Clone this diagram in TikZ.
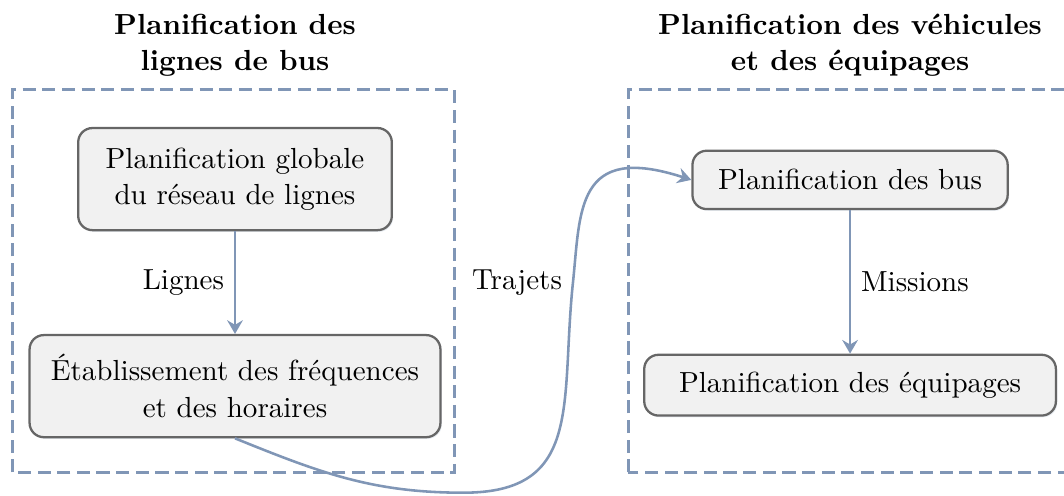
\documentclass[tikz,border=0pt]{standalone}
\usepackage{fontspec}
\usetikzlibrary{arrows.meta,shadows}

\definecolor{ligne}{RGB}{128,150,182}
\definecolor{bord}{RGB}{102,102,102}
\definecolor{fond}{RGB}{241,241,241}

\tikzset{
    etape/.style={draw=bord, fill=fond, line width=0.8pt, rounded corners=5pt, align=center,
        drop shadow={shadow xshift=0.5pt, shadow yshift=-0.6pt, fill=ligne!50, opacity=0.35}},
    fleche/.style={draw=ligne, line width=0.9pt, -{Stealth[length=4.8pt, width=5.5pt, inset=1.6pt]}},
    cadre/.style={draw=ligne, line width=1.05pt, dash pattern=on 4.6pt off 2.3pt},
    titre/.style={font=\bfseries, align=center}
}

\begin{document}
\fontsize{10.2pt}{12.8pt}\selectfont
\begin{tikzpicture}
    \useasboundingbox (0,0) rectangle (13.13,6.11);
    % les deux cadres
    \draw[cadre] (0.15,0.28) rectangle (5.61,5.0);
    \draw[cadre] (7.75,0.28) rectangle (13.4,5.0);
    \node[titre] (titregauche) at (2.90,5.55) {Planification des\\lignes de bus};
    \node[titre] (titredroite) at (10.49,5.55) {Planification des véhicules\\et des équipages};
    % etapes
    \node[etape, minimum width=3.87cm, minimum height=1.26cm] (reseau) at (2.90,3.90) {Planification globale\\du réseau de lignes};
    \node[etape, minimum width=5.07cm, minimum height=1.26cm] (horaires) at (2.90,1.345) {Établissement des fréquences\\et des horaires};
    \node[etape, minimum width=3.89cm, minimum height=0.72cm] (bus) at (10.49,3.89) {Planification des bus};
    \node[etape, minimum width=5.08cm, minimum height=0.75cm] (equipages) at (10.49,1.357) {Planification des équipages};
    % fleches
    \draw[fleche] (reseau) -- node[left] (lignes) {Lignes} (horaires);
    \draw[fleche] (bus) -- node[right] (missions) {Missions} (equipages);
    \draw[fleche] (horaires.south) to[out=-22, in=180] (5.72,0.03)
        to[out=0, in=-96, looseness=1.3] (7.07,2.62) node[left] (trajets) {Trajets}
        to[out=84, in=162, out distance=0.9cm, in distance=1.5cm] (bus.west);
\end{tikzpicture}
\end{document}
